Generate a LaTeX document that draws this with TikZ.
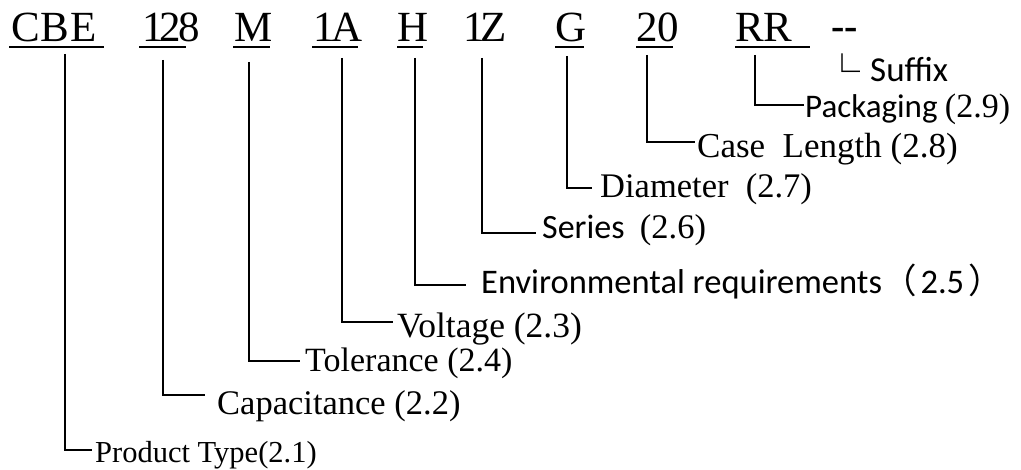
\documentclass[tikz,border=0pt]{standalone}
\usepackage{fontspec}
\setmainfont{Liberation Serif}
\newfontfamily\calfont{Carlito}
\newfontfamily\cjkfont{Noto Sans CJK SC}
\begin{document}
\begin{tikzpicture}[x=1pt,y=-1pt,
  code/.style={anchor=base west,inner sep=0pt,font=\fontsize{43}{50}\selectfont},
  lbl/.style={anchor=base west,inner sep=0pt,font=\fontsize{34.5}{40}\selectfont},
  slbl/.style={anchor=base west,inner sep=0pt,font=\fontsize{34}{40}\selectfont\calfont},
  conn/.style={line width=2pt},
  uline/.style={line width=2pt}]
\useasboundingbox[fill=white] (0,0) rectangle (1021,470);

% code row
\node[code] (cbe)  at (11,42)  {C\kern1pt B\kern1pt E};
\node[code] (c128) at (142,42) {1\kern-4pt 2\kern-3pt 8};
\node[code] (cm)   at (234,42) {M};
\node[code] (c1a)  at (313,42) {1\kern-3pt A};
\node[code] (ch)   at (397,42) {H};
\node[code] (c1z)  at (463,42) {1\kern-4pt Z};
\node[code] (cg)   at (555,42) {G};
\node[code] (c20)  at (636,42) {20};
\node[code] (crr)  at (735,42) {RR};
\node[anchor=base west,inner sep=0pt,font=\fontsize{40}{44}\selectfont\bfseries] (cdash) at (831,40) {-{}-};

% underlines
\draw[uline] ([xshift=-2pt,yshift=-5pt]cbe.base west) -- ++(95,0);
\draw[uline] ([xshift=-3pt,yshift=-5pt]c128.base west) -- ++(47,0);
\draw[uline] ([xshift=-1pt,yshift=-5pt]cm.base west) -- ++(37,0);
\draw[uline] ([xshift=-1pt,yshift=-5pt]c1a.base west) -- ++(46,0);
\draw[uline] ([yshift=-5pt]ch.base west) -- ++(26,0);
\draw[uline] ([yshift=-5pt]cg.base west) -- ++(29,0);
\draw[uline] ([yshift=-5pt]c20.base west) -- ++(37,0);
\draw[uline] ([yshift=-5pt]crr.base west) -- ++(75,0);

% tops of leader lines
\coordinate (vcbe) at (65,54);
\coordinate (v128) at (163,60);
\coordinate (vm)   at (249,62);
\coordinate (v1a)  at (342,58);
\coordinate (vh)   at (415,58);
\coordinate (v1z)  at (482,58);
\coordinate (vg)   at (567,56);
\coordinate (v20)  at (647,55);
\coordinate (vrr)  at (755,55);

% labels
\node[lbl,font=\fontsize{30.5}{36}\selectfont] (ptype) at (95,462) {Product Type(2.1)};
\node[lbl] (cap)  at (217,415) {Capacitance (2.2)};
\node[lbl,font=\fontsize{34}{40}\selectfont] (tol)  at (305,372) {Tolerance (2.4)};
\node[lbl,font=\fontsize{35.5}{40}\selectfont] (volt) at (397,338) {Voltage (2.3)};
\node[slbl,font=\fontsize{34.5}{40}\selectfont\calfont] (env) at (481,294) {Environmental requirements{\cjkfont （}\hspace{4pt}2.5\hspace{4pt}{\cjkfont ）}};
\node[slbl] (ser) at (542,239) {Series\ \ {\rmfamily\fontsize{34.5}{40}\selectfont (2.6)}};
\node[lbl] (dia)  at (600,198) {Diameter\ \ (2.7)};
\node[lbl,font=\fontsize{35}{40}\selectfont] (case) at (697,158) {Case\ \ Length (2.8)};
\node[slbl,font=\fontsize{33}{40}\selectfont\calfont] (pack) at (805,118) {Packaging {\rmfamily\fontsize{34}{40}\selectfont (2.9)}};
\node[slbl,font=\fontsize{35}{40}\selectfont\calfont] (suf) at (824,82) {\raisebox{-4pt}{\cjkfont\fontsize{36}{40}\selectfont └}\hspace{10pt}Suffix};

% connectors
\draw[conn] (vcbe) |- ([xshift=-3pt,yshift=12pt]ptype.base west);
\draw[conn] (v128) |- ([xshift=-12pt,yshift=19.5pt]cap.base west);
\draw[conn] (vm)   |- ([xshift=-5pt,yshift=11pt]tol.base west);
\draw[conn] (v1a)  |- ([xshift=-4pt,yshift=16pt]volt.base west);
\draw[conn] (vh)   |- ([xshift=-15pt,yshift=9pt]env.base west);
\draw[conn] (v1z)  |- ([xshift=-6pt,yshift=6pt]ser.base west);
\draw[conn] (vg)   |- ([xshift=-8pt,yshift=10pt]dia.base west);
\draw[conn] (v20)  |- ([xshift=-2pt,yshift=16pt]case.base west);
\draw[conn] (vrr)  |- ([xshift=-1pt,yshift=13pt]pack.base west);
\end{tikzpicture}
\end{document}
